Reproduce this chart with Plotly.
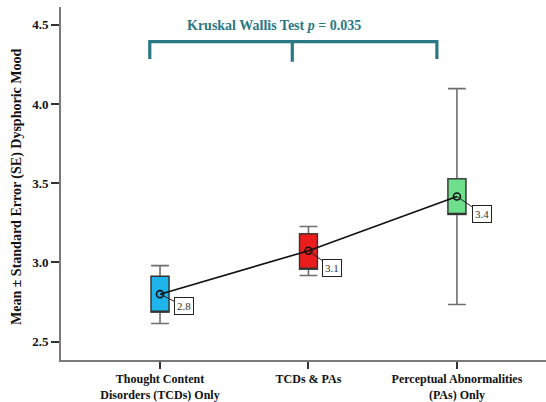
import plotly.graph_objects as go

# ---- data ----
categories = ["Thought Content<br>Disorders (TCDs) Only", "TCDs & PAs", "Perceptual Abnormalities<br>(PAs) Only"]
means = [2.80, 3.074, 3.416]
se_low = [2.687, 2.958, 3.303]
se_high = [2.912, 3.181, 3.528]
whisker_low = [2.615, 2.918, 2.735]
whisker_high = [2.98, 3.227, 4.097]
box_colors = ["#1DB5EC", "#EC1C1C", "#6EE08C"]
y_ticks = [2.5, 3.0, 3.5, 4.0, 4.5]
test_label = "<b>Kruskal Wallis Test <i>p</i> = 0.035</b>"
y_title = "Mean ± Standard Error (SE) Dysphoric Mood"

FONT = "Liberation Serif"
TEAL = "#2A7884"
xpos = list(range(len(categories)))

fig = go.Figure()

for i, x in enumerate(xpos):
    # whiskers (behind)
    fig.add_trace(go.Box(
        x=[x], q1=[se_low[i]], median=[se_low[i]], q3=[se_high[i]],
        lowerfence=[whisker_low[i]], upperfence=[whisker_high[i]],
        width=0.12, whiskerwidth=1, boxpoints=False,
        line=dict(color="#6E6E6E", width=1.6), fillcolor=box_colors[i],
        showlegend=False, hoverinfo="skip"))
    # box on top
    fig.add_trace(go.Box(
        x=[x], q1=[se_low[i]], median=[se_low[i]], q3=[se_high[i]],
        lowerfence=[se_low[i]], upperfence=[se_high[i]],
        width=0.12, whiskerwidth=0, boxpoints=False,
        line=dict(color="#333333", width=1.2), fillcolor=box_colors[i],
        showlegend=False, hoverinfo="skip"))

fig.add_trace(go.Scatter(
    x=xpos, y=means, mode="lines+markers",
    line=dict(color="#111111", width=1.6),
    marker=dict(symbol="circle-open", size=7, color="#111111", line=dict(width=1.6)),
    showlegend=False))

label_offsets = [(24, 12), (24, 17), (25, 17)]
for i, x in enumerate(xpos):
    ax, ay = label_offsets[i]
    fig.add_annotation(
        x=x, y=means[i], xref="x", yref="y", text=f"{means[i]:.1f}",
        showarrow=True, arrowhead=0, arrowwidth=1, arrowcolor="#222222",
        ax=ax, ay=ay, standoff=0,
        bordercolor="#222222", borderwidth=1, borderpad=2, bgcolor="white",
        font=dict(family=FONT, size=11, color="#333333"))

# significance bracket
bx = [-0.069, 0.891, 1.865]
by_top, by_end, by_mid = 4.393, 4.284, 4.267
path = (f"M {bx[0]},{by_end} L {bx[0]},{by_top} L {bx[2]},{by_top} L {bx[2]},{by_end} "
        f"M {bx[1]},{by_top} L {bx[1]},{by_mid}")
fig.add_shape(type="path", path=path, xref="x", yref="y",
              line=dict(color=TEAL, width=3.2))
fig.add_annotation(x=0.768, y=4.498, xref="x", yref="y", text=test_label,
                   showarrow=False, font=dict(family=FONT, size=14, color=TEAL))

fig.add_annotation(x=-0.0907, y=0.49, xref="paper", yref="paper", text=f"<b>{y_title}</b>",
                   textangle=-90, showarrow=False, xanchor="center", yanchor="middle",
                   font=dict(family=FONT, size=14, color="#111111"))

fig.update_layout(
    width=546, height=402,
    margin=dict(l=61, r=0, t=7, b=42, autoexpand=False),
    paper_bgcolor="white", plot_bgcolor="white",
    boxmode="overlay", showlegend=False,
    font=dict(family=FONT, color="#111111"),
)
fig.update_xaxes(
    range=[-0.667, 2.6], tickvals=xpos, ticktext=[f"<b>{c}</b>" for c in categories],
    showline=True, linecolor="#7A7A7A", linewidth=1.6, showgrid=False, zeroline=False,
    ticks="outside", ticklen=7, tickwidth=1.5, tickcolor="#333333",
    tickfont=dict(family=FONT, size=12, color="#111111"))
fig.update_yaxes(
    range=[2.3845, 4.612], tickvals=y_ticks, ticktext=[f"<b>{v:.1f}</b>" for v in y_ticks],
    showline=True, linecolor="#7A7A7A", linewidth=1.6, showgrid=False, zeroline=False,
    ticks="outside", ticklen=8, tickwidth=1.5, tickcolor="#333333",
    tickfont=dict(family=FONT, size=13, color="#111111"))

fig.write_html("out.html", config={"displayModeBar": False},
               post_script="document.body.style.margin='0';document.body.style.overflow='hidden';")
